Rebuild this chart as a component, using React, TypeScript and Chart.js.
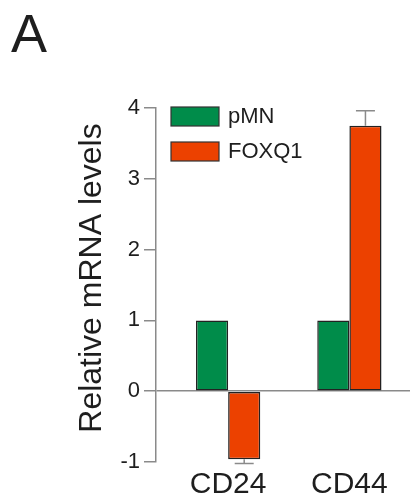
import React, { useEffect, useRef } from "react";
import { Chart, registerables } from "chart.js";

Chart.register(...registerables);

const categories = ["CD24", "CD44"];
const seriesNames = ["pMN", "FOXQ1"];
const pMN = [1, 1];
const FOXQ1 = [-0.96, 3.75];
const pMNErr = [0, 0];
const FOXQ1Err = [0.06, 0.21];
const yTicks = [-1, 0, 1, 2, 3, 4];
const seriesColors = ["#008c4a", "#ec4100"];
const panelLabel = "A";
const yTitle = "Relative mRNA levels";

const values = [pMN, FOXQ1];
const errors = [pMNErr, FOXQ1Err];

const FONT = "'Liberation Sans', Arial, sans-serif";
const TEXT = "#1e1e1e";
const AXIS = "#8a8a8a";

const decorPlugin = {
  id: "decor",
  afterDatasetsDraw(chart: any) {
    const ctx = chart.ctx;
    const ys = chart.scales.y;
    ctx.save();
    ctx.strokeStyle = AXIS;
    ctx.lineWidth = 1.5;
    chart.data.datasets.forEach((_ds: any, di: number) => {
      const meta = chart.getDatasetMeta(di);
      meta.data.forEach((bar: any, i: number) => {
        const err = errors[di][i];
        if (!err) return;
        const v = values[di][i];
        const end = v >= 0 ? v + err : v - err;
        const yEnd = ys.getPixelForValue(end);
        ctx.beginPath();
        ctx.moveTo(bar.x, bar.y);
        ctx.lineTo(bar.x, yEnd);
        ctx.moveTo(bar.x - 9.5, yEnd);
        ctx.lineTo(bar.x + 9.5, yEnd);
        ctx.stroke();
      });
    });
    ctx.restore();
  },
  afterDraw(chart: any) {
    const ctx = chart.ctx;
    const area = chart.chartArea;
    ctx.save();
    ctx.fillStyle = TEXT;
    ctx.font = `54px ${FONT}`;
    ctx.textAlign = "left";
    ctx.textBaseline = "alphabetic";
    ctx.fillText(panelLabel, 11, 52);
    ctx.save();
    ctx.translate(92, 278);
    ctx.rotate(-Math.PI / 2);
    ctx.font = `32px ${FONT}`;
    ctx.textAlign = "center";
    ctx.textBaseline = "middle";
    ctx.fillText(yTitle, 0, 0);
    ctx.restore();
    seriesNames.forEach((name, i) => {
      const bx = area.left + 15;
      const by = area.top - 1 + i * 35;
      ctx.fillStyle = seriesColors[i];
      ctx.fillRect(bx, by, 48, 19);
      ctx.strokeStyle = "#333";
      ctx.lineWidth = 1.2;
      ctx.strokeRect(bx, by, 48, 19);
      ctx.fillStyle = TEXT;
      ctx.font = `22px ${FONT}`;
      ctx.textAlign = "left";
      ctx.textBaseline = "middle";
      ctx.fillText(name, bx + 57, by + 10);
    });
    ctx.restore();
  },
};

export default function App() {
  const ref = useRef<HTMLCanvasElement>(null);
  useEffect(() => {
    if (!ref.current) return;
    const chart = new Chart(ref.current, {
      type: "bar",
      data: {
        datasets: seriesNames.map((name, di) => ({
          label: name,
          data: categories.map((_c, i) => ({ x: i + 1, y: values[di][i] })),
          backgroundColor: seriesColors[di],
          borderColor: "#222",
          borderWidth: 1.5,
          borderSkipped: false,
          categoryPercentage: 0.53,
          barPercentage: 1,
        })),
      },
      options: {
        animation: false,
        responsive: false,
        layout: { padding: { top: 108, left: 0, right: 0, bottom: 0 } },
        plugins: { legend: { display: false }, tooltip: { enabled: false }, title: { display: false } },
        scales: {
          x: {
            type: "linear",
            offset: false,
            min: 0.405,
            max: 2.5,
            afterBuildTicks: (scale: any) => {
              scale.ticks = categories.map((_c, i) => ({ value: i + 1 }));
            },
            afterFit: (scale: any) => {
              scale.height = 38;
              scale.paddingLeft = 0;
              scale.paddingRight = 0;
            },
            grid: { display: false, drawTicks: false, offset: false },
            border: { display: false },
            ticks: {
              callback: (v: any) => categories[Number(v) - 1] ?? "",
              font: { family: FONT, size: 30 },
              color: TEXT,
              padding: 5,
              maxRotation: 0,
              autoSkip: false,
            },
          },
          y: {
            min: yTicks[0],
            max: yTicks[yTicks.length - 1],
            afterBuildTicks: (scale: any) => {
              scale.ticks = yTicks.map((v) => ({ value: v }));
            },
            afterFit: (scale: any) => {
              scale.width = 156;
            },
            grid: {
              color: (c: any) => (c.tick && c.tick.value === 0 ? AXIS : "transparent"),
              lineWidth: 1.5,
              drawTicks: true,
              tickLength: 12,
              tickColor: AXIS,
              tickWidth: 1.5,
            },
            border: { display: true, color: AXIS, width: 1.5 },
            ticks: {
              font: { family: FONT, size: 22 },
              color: TEXT,
              padding: 4,
            },
          },
        },
      },
      plugins: [decorPlugin],
    });
    return () => chart.destroy();
  }, []);
  return (
    <div style={{ position: "absolute", left: 0, top: 0, width: 410, height: 500 }}>
      <canvas ref={ref} width={410} height={500} style={{ width: 410, height: 500 }} />
    </div>
  );
}
